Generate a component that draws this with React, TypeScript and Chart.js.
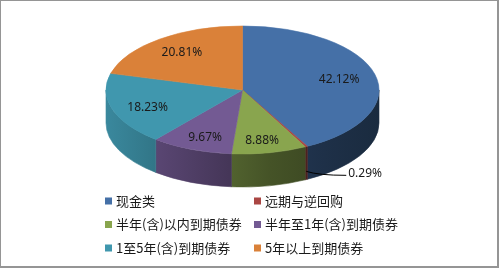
import React, { useEffect, useRef } from "react";
import { Chart, registerables } from "chart.js";

Chart.register(...registerables);

// ---- data ----
const categories = [
  "现金类",
  "远期与逆回购",
  "半年(含)以内到期债券",
  "半年至1年(含)到期债券",
  "1至5年(含)到期债券",
  "5年以上到期债券",
];
const shares = [42.12, 0.29, 8.88, 9.67, 18.23, 20.81];
const sliceColors = ["#4570A7", "#AA4643", "#89A54E", "#735A93", "#4097AE", "#DA8139"];

const W = 499;
const H = 268;

function shade(hex: string, f: number): string {
  const n = parseInt(hex.slice(1), 16);
  const r = Math.round(((n >> 16) & 255) * f);
  const g = Math.round(((n >> 8) & 255) * f);
  const b = Math.round((n & 255) * f);
  return `rgb(${r},${g},${b})`;
}

const sideStops: [number, number][] = [
  [0, 0.9],
  [0.15, 0.8],
  [0.45, 0.6],
  [0.6, 0.5],
  [0.8, 0.43],
  [1, 0.38],
];

const pie3d = {
  id: "pie3d",
  beforeDatasetsDraw(chart: any, _args: any, opts: any) {
    const meta = chart.getDatasetMeta(0);
    const arcs = meta.data;
    chart.$pie3dSaved = false;
    if (!arcs.length) return;
    const ctx = chart.ctx as CanvasRenderingContext2D;
    const { cx, cy, rx, ry, depth } = opts;
    const colors = chart.data.datasets[0].backgroundColor as string[];
    arcs.forEach((arc: any, i: number) => {
      const a1 = Math.max(arc.startAngle, 0);
      const a2 = Math.min(arc.endAngle, Math.PI);
      if (a2 <= a1) return;
      const g = ctx.createLinearGradient(cx - rx, 0, cx + rx, 0);
      sideStops.forEach(([t, f]) => g.addColorStop(t, shade(colors[i], f)));
      ctx.beginPath();
      ctx.ellipse(cx, cy, rx, ry, 0, a1, a2, false);
      ctx.ellipse(cx, cy + depth, rx, ry, 0, a2, a1, true);
      ctx.closePath();
      ctx.fillStyle = g;
      ctx.fill();
      ctx.strokeStyle = g;
      ctx.lineWidth = 0.6;
      ctx.stroke();
    });
    const a0 = arcs[0];
    const R = a0.outerRadius;
    ctx.save();
    chart.$pie3dSaved = true;
    ctx.translate(cx, cy);
    ctx.scale(rx / R, ry / R);
    ctx.translate(-a0.x, -a0.y);
  },
  afterDatasetsDraw(chart: any) {
    if (chart.$pie3dSaved) {
      chart.ctx.restore();
      chart.$pie3dSaved = false;
    }
  },
  afterDraw(chart: any, _args: any, opts: any) {
    const ctx = chart.ctx as CanvasRenderingContext2D;
    const { cx, cy, rx, ry, depth } = opts;
    const meta = chart.getDatasetMeta(0);
    const values = chart.data.datasets[0].data as number[];
    const colors = chart.data.datasets[0].backgroundColor as string[];
    const labels = chart.data.labels as string[];

    // value labels
    ctx.save();
    ctx.font = '12px "Noto Sans"';
    ctx.fillStyle = "#1a1a1a";
    meta.data.forEach((arc: any, i: number) => {
      const mid = (arc.startAngle + arc.endAngle) / 2;
      const text = values[i].toFixed(2) + "%";
      if (values[i] >= 2) {
        const x = cx + 0.73 * rx * Math.cos(mid);
        const y = cy + 2 + 0.775 * ry * Math.sin(mid);
        ctx.textAlign = "center";
        ctx.textBaseline = "middle";
        ctx.fillText(text, x, y);
      } else {
        const sx = cx + rx * Math.cos(mid);
        const sy = cy + ry * Math.sin(mid) + depth * 0.75;
        const ex = sx + 40;
        const ey = sy + 4;
        ctx.beginPath();
        ctx.moveTo(sx, sy);
        ctx.quadraticCurveTo(sx + 12, ey, ex, ey);
        ctx.strokeStyle = "#000";
        ctx.lineWidth = 1;
        ctx.stroke();
        ctx.textAlign = "left";
        ctx.textBaseline = "middle";
        ctx.fillText(text, ex + 2, ey - 2);
      }
    });
    ctx.restore();

    // legend (two columns)
    ctx.save();
    ctx.font = '13px "Noto Sans CJK SC"';
    ctx.textAlign = "left";
    ctx.textBaseline = "middle";
    const colX = [cx - 137.5, cx + 11.5];
    labels.forEach((lab, i) => {
      const x = colX[i % 2];
      const y = cy + 111 + Math.floor(i / 2) * 23.5;
      ctx.fillStyle = colors[i];
      ctx.fillRect(x, y - 3.5, 7, 7);
      ctx.fillStyle = "#1a1a1a";
      ctx.fillText(lab, x + 11, y);
    });
    ctx.restore();

    // frame
    ctx.save();
    ctx.fillStyle = "#959595";
    ctx.fillRect(0, 0, W, 1);
    ctx.fillRect(0, 0, 1, H);
    ctx.fillRect(W - 2, 0, 2, H);
    ctx.fillRect(0, H - 2, W, 2);
    ctx.restore();
  },
};

export default function App() {
  const ref = useRef<HTMLCanvasElement | null>(null);
  useEffect(() => {
    if (!ref.current) return;
    const chart = new Chart(ref.current, {
      type: "pie",
      data: {
        labels: categories,
        datasets: [
          {
            data: shares,
            backgroundColor: sliceColors,
            borderColor: sliceColors,
            borderWidth: 0.8,
            clip: false,
          } as any,
        ],
      },
      options: {
        responsive: false,
        animation: false,
        events: [],
        layout: { padding: 0 },
        plugins: {
          legend: { display: false },
          tooltip: { enabled: false },
          pie3d: { cx: 242.5, cy: 90, rx: 136.5, ry: 64, depth: 33 },
        } as any,
      },
      plugins: [pie3d],
    });
    return () => chart.destroy();
  }, []);
  return (
    <div style={{ position: "fixed", left: 0, top: 0, width: W, height: H, background: "#fff" }}>
      <canvas ref={ref} width={W} height={H} style={{ display: "block", width: W, height: H }} />
    </div>
  );
}
